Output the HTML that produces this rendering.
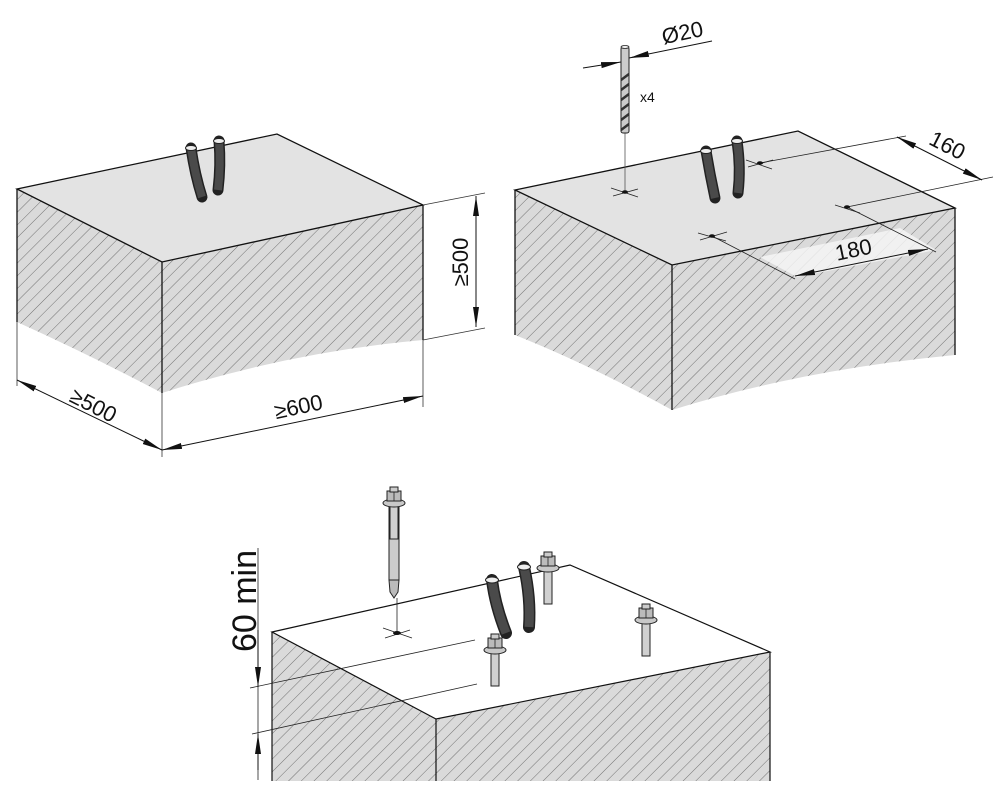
<!DOCTYPE html>
<html><head><meta charset="utf-8"><style>
html,body{margin:0;padding:0;background:#fff}
svg{display:block}
text{font-family:"Liberation Sans",sans-serif;fill:#111}
</style></head><body>
<svg width="1000" height="800" viewBox="0 0 1000 800" xmlns="http://www.w3.org/2000/svg">
<defs>
<pattern id="h" width="9" height="9" patternUnits="userSpaceOnUse" patternTransform="rotate(45)">
<rect width="9" height="9" fill="#dadada"/>
<line x1="0" y1="0" x2="0" y2="9" stroke="#666" stroke-width="0.9" stroke-dasharray="10 3 5 3"/>
</pattern>
<marker id="a" viewBox="0 0 20 8" refX="20" refY="4" markerWidth="20" markerHeight="8" markerUnits="userSpaceOnUse" orient="auto-start-reverse">
<path d="M0,1 L20,4 L0,7 Z" fill="#111"/>
</marker>
<g id="bolt">
<rect x="-4" y="2" width="8" height="36" fill="#d0d0d0" stroke="#222" stroke-width="1"/>
<ellipse cx="0" cy="2" rx="11" ry="4" fill="#c8c8c8" stroke="#222" stroke-width="1"/>
<path d="M-7,-10 L7,-10 L7,0 L-7,0 Z" fill="#bbb" stroke="#222" stroke-width="1"/>
<rect x="-4" y="-14" width="8" height="5" fill="#ccc" stroke="#222" stroke-width="1"/>
<line x1="0" y1="-9" x2="0" y2="0" stroke="#222" stroke-width="0.8"/>
</g>
</defs>

<!-- Block 1 -->
<path d="M17,189 L162,262 L162,393 Q90,355 17,322 Z" fill="url(#h)"/>
<path d="M162,262 L423,205 L423,340 Q290,352 162,393 Z" fill="url(#h)"/>
<path d="M17,189 L277,134 L423,205 L162,262 Z" fill="#e3e3e3" stroke="#111" stroke-width="1.3"/>
<path d="M17,189 L17,322 M162,262 L162,393 M423,205 L423,340" stroke="#111" stroke-width="1.3" fill="none"/>
<path d="M191,148 Q195,175 202,197" stroke="#222" stroke-width="11" fill="none" stroke-linecap="round"/>
<path d="M191,148 Q195,175 202,197" stroke="#4a4a4a" stroke-width="8" fill="none"/>
<ellipse cx="191" cy="148" rx="5.5" ry="2.5" fill="#eee" stroke="#222"/>
<path d="M219,141 Q221,165 218,190" stroke="#222" stroke-width="11" fill="none" stroke-linecap="round"/>
<path d="M219,141 Q221,165 218,190" stroke="#4a4a4a" stroke-width="8" fill="none"/>
<ellipse cx="219" cy="141" rx="5.5" ry="2.5" fill="#eee" stroke="#222"/>
<!-- dims block1 -->
<line x1="423" y1="205" x2="485" y2="193" stroke="#333" stroke-width="0.8"/>
<line x1="423" y1="340" x2="485" y2="328" stroke="#333" stroke-width="0.8"/>
<line x1="476" y1="196" x2="476" y2="327" stroke="#111" stroke-width="1" marker-start="url(#a)" marker-end="url(#a)"/>
<text x="0" y="0" font-size="22" transform="translate(468,262) rotate(-90)" text-anchor="middle">≥500</text>
<line x1="17" y1="322" x2="17" y2="386" stroke="#333" stroke-width="0.8"/>
<line x1="162" y1="393" x2="162" y2="457" stroke="#333" stroke-width="0.8"/>
<line x1="423" y1="340" x2="423" y2="407" stroke="#333" stroke-width="0.8"/>
<line x1="17" y1="380" x2="162" y2="450" stroke="#111" stroke-width="1" marker-start="url(#a)" marker-end="url(#a)"/>
<line x1="162" y1="450" x2="423" y2="396" stroke="#111" stroke-width="1" marker-start="url(#a)" marker-end="url(#a)"/>
<text font-size="22" transform="translate(90,412) rotate(27)" text-anchor="middle">≥500</text>
<text font-size="22" transform="translate(300,414) rotate(-12)" text-anchor="middle">≥600</text>

<!-- Block 2 -->
<path d="M515,190 L672,265 L672,410 Q590,365 515,335 Z" fill="url(#h)"/>
<path d="M672,265 L955,208 L955,355 Q800,370 672,410 Z" fill="url(#h)"/>
<path d="M760,257 L900,228 L936,250 L797,277 Z" fill="#f4f4f4" opacity="0.85"/>
<path d="M515,190 L798,131 L955,208 L672,265 Z" fill="#e3e3e3" stroke="#111" stroke-width="1.3"/>
<path d="M515,190 L515,335 M672,265 L672,410 M955,208 L955,355" stroke="#111" stroke-width="1.3" fill="none"/>
<!-- drill -->
<line x1="625" y1="132" x2="625" y2="192" stroke="#555" stroke-width="0.8"/>
<rect x="621" y="47" width="8" height="86" rx="2" fill="#ccc" stroke="#222" stroke-width="1"/>
<path d="M621,80 L629,74 M621,90 L629,84 M621,100 L629,94 M621,110 L629,104 M621,120 L629,114 M621,130 L629,124" stroke="#333" stroke-width="2.5"/>
<ellipse cx="625" cy="47" rx="4" ry="1.5" fill="#eee" stroke="#222" stroke-width="0.8"/>
<line x1="583" y1="68" x2="621" y2="62" stroke="#111" stroke-width="1" marker-end="url(#a)"/>
<line x1="712" y1="41" x2="629" y2="58" stroke="#111" stroke-width="1" marker-end="url(#a)"/>
<text font-size="22" transform="translate(684,40) rotate(-12)" text-anchor="middle">Ø20</text>
<text x="640" y="102" font-size="14">x4</text>
<!-- holes -->
<g stroke="#222" stroke-width="0.8">
<line x1="611" y1="188" x2="638" y2="197"/><line x1="613" y1="196" x2="638" y2="189"/>
<line x1="746" y1="160" x2="772" y2="169"/><line x1="748" y1="167" x2="773" y2="160"/>
<line x1="835" y1="205" x2="860" y2="213"/>
<line x1="698" y1="233" x2="726" y2="241"/><line x1="700" y1="240" x2="727" y2="232"/>
<line x1="760" y1="163" x2="906" y2="136"/>
<line x1="847" y1="207" x2="993" y2="177"/>
<line x1="712" y1="236" x2="795" y2="279"/>
<line x1="847" y1="207" x2="936" y2="252"/>
</g>
<ellipse cx="625" cy="192" rx="3" ry="1.8" fill="#111"/>
<ellipse cx="760" cy="163" rx="3" ry="1.8" fill="#111"/>
<ellipse cx="847" cy="207" rx="3" ry="1.8" fill="#111"/>
<ellipse cx="712" cy="236" rx="3" ry="1.8" fill="#111"/>
<line x1="897" y1="137" x2="982" y2="180" stroke="#111" stroke-width="1" marker-start="url(#a)" marker-end="url(#a)"/>
<text font-size="22" transform="translate(944,152) rotate(27)" text-anchor="middle">160</text>
<line x1="795" y1="276" x2="928" y2="249" stroke="#111" stroke-width="1" marker-start="url(#a)" marker-end="url(#a)"/>
<text font-size="22" transform="translate(855,257) rotate(-12)" text-anchor="middle">180</text>
<path d="M706,151 Q710,175 715,198" stroke="#222" stroke-width="11" fill="none" stroke-linecap="round"/>
<path d="M706,151 Q710,175 715,198" stroke="#4a4a4a" stroke-width="8" fill="none"/>
<ellipse cx="706" cy="151" rx="5.5" ry="2.5" fill="#eee" stroke="#222"/>
<path d="M737,141 Q741,168 738,193" stroke="#222" stroke-width="11" fill="none" stroke-linecap="round"/>
<path d="M737,141 Q741,168 738,193" stroke="#4a4a4a" stroke-width="8" fill="none"/>
<ellipse cx="737" cy="141" rx="5.5" ry="2.5" fill="#eee" stroke="#222"/>

<!-- Block 3 -->
<path d="M272,632 L436,719 L436,781 L272,781 Z" fill="url(#h)"/>
<path d="M436,719 L770,652 L770,781 L436,781 Z" fill="url(#h)"/>
<path d="M272,632 L570,565 L770,652 L436,719 Z" fill="#fff" stroke="#111" stroke-width="1.2"/>
<path d="M272,632 L272,781 M436,719 L436,781 M770,652 L770,781" stroke="#111" stroke-width="1.2" fill="none"/>
<g stroke="#222" stroke-width="0.8">
<line x1="250" y1="688" x2="475" y2="640"/>
<line x1="252" y1="734" x2="477" y2="684"/>
<line x1="258" y1="548" x2="258" y2="780"/>
<line x1="383" y1="628" x2="412" y2="638"/><line x1="385" y1="638" x2="410" y2="630"/>
<line x1="397" y1="598" x2="397" y2="633"/>
</g>
<line x1="258" y1="630" x2="258" y2="687" stroke="#111" marker-end="url(#a)"/>
<line x1="258" y1="770" x2="258" y2="734" stroke="#111" marker-end="url(#a)"/>
<text font-size="34" transform="translate(256,601) rotate(-90)" text-anchor="middle">60 min</text>
<ellipse cx="397" cy="633" rx="4" ry="2" fill="#111"/>
<!-- loose anchor -->
<rect x="389" y="503" width="10" height="77" fill="#ccc" stroke="#222" stroke-width="1"/>
<path d="M389,580 L399,580 L398,592 L394,598 L390,592 Z" fill="#bbb" stroke="#222" stroke-width="1"/>
<use href="#bolt" transform="translate(394,501)"/>
<!-- rebars -->
<path d="M492,580 Q495,605 506,633" stroke="#222" stroke-width="12" fill="none" stroke-linecap="round"/>
<path d="M492,580 Q495,605 506,633" stroke="#4a4a4a" stroke-width="9" fill="none"/>
<ellipse cx="492" cy="580" rx="6.5" ry="3" fill="#eee" stroke="#222"/>
<path d="M524,567 Q531,598 529,627" stroke="#222" stroke-width="12" fill="none" stroke-linecap="round"/>
<path d="M524,567 Q531,598 529,627" stroke="#4a4a4a" stroke-width="9" fill="none"/>
<ellipse cx="524" cy="567" rx="6.5" ry="3" fill="#eee" stroke="#222"/>
<!-- installed anchors -->
<use href="#bolt" transform="translate(548,566)"/>
<use href="#bolt" transform="translate(646,618)"/>
<use href="#bolt" transform="translate(495,648)"/>
</svg>
</body></html>
